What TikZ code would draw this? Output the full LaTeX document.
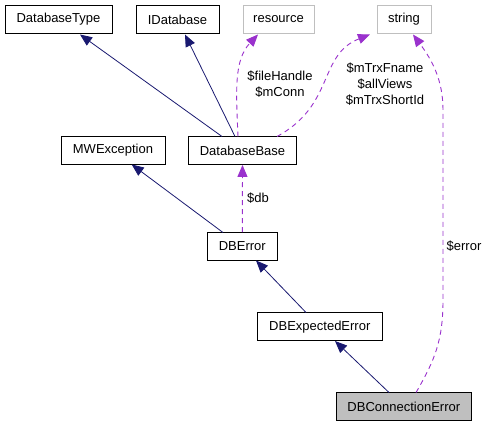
\documentclass[tikz,border=0pt]{standalone}
\usepackage{fontspec}
\setmainfont{Liberation Sans}
\usetikzlibrary{arrows.meta}
\definecolor{navy}{HTML}{191970}
\definecolor{orchid}{HTML}{9A32CD}
\definecolor{boxgray}{HTML}{BFBFBF}
\tikzset{
  cls/.style={draw=black, line width=0.9pt, inner sep=0pt, minimum height=28pt, font=\fontsize{13}{15}\selectfont},
  ext/.style={cls, draw=boxgray},
  inh/.style={draw=navy, line width=0.8pt, -{Triangle[length=12pt,width=10pt]}, shorten >=0pt},
  use/.style={draw=orchid, line width=0.9pt, dash pattern=on 5pt off 4pt, -{Triangle[length=12pt,width=10pt]}, color=orchid},
  lbl/.style={font=\fontsize{13}{16}\selectfont, align=center, inner sep=0pt}
}
\begin{document}
\begin{tikzpicture}[x=1pt,y=-1pt]
\useasboundingbox (0,0) rectangle (487,427);
\node[cls, minimum width=107pt] (dbt) at (58.5,19.5) {DatabaseType};
\node[cls, minimum width=83pt] (idb) at (177.5,19.5) {IDatabase};
\node[ext, minimum width=71pt] (res) at (278.5,19.5) {resource};
\node[ext, minimum width=54pt] (str) at (404,19.5) {string};
\node[cls, minimum width=104pt] (mwe) at (113,150.5) {MWException};
\node[cls, minimum width=108pt] (dbb) at (242.5,150.5) {DatabaseBase};
\node[cls, minimum width=70pt] (dbe) at (242.3,246.5) {DBError};
\node[cls, minimum width=125pt] (dbx) at (319.8,326.7) {DBExpectedError};
\node[cls, minimum width=135pt, fill=boxgray] (dbc) at (403.8,406.7) {DBConnectionError};

\coordinate (a1) at (222,136.5);
\coordinate (a2) at (235,136.5);
\coordinate (a3) at (238,136.5);
\coordinate (a4) at (277,136.5);
\draw[inh] (a1) -- (80,34.5);
\draw[inh] (a2) -- (185,34.5);
\draw[use] (a3) .. controls (236,90) and (234,60) .. (258,34.5);
\draw[use] (a4) .. controls (335,105) and (318,55) .. (370,34.5);
\coordinate (c1) at (416,392.5);
\draw[use] (c1) .. controls (435,360) and (443,340) .. (443,300) -- (443,110) .. controls (443,80) and (432,60) .. (413,34.5);
\coordinate (e1) at (223,232.5);
\draw[inh] (e1) -- (131.7,164.5);
\draw[use] (dbe.north) -- (dbb.south);
\coordinate (x1) at (306,312.5);
\draw[inh] (x1) -- (256,260.5);
\coordinate (y1) at (389,392.5);
\draw[inh] (y1) -- (335,341);

\node[lbl] (l1) at (280,84.5) {\$fileHandle\\\$mConn};
\node[lbl] (l2) at (385,84) {\$mTrxFname\\\$allViews\\\$mTrxShortId};
\node[lbl] (l3) at (464,246) {\$error};
\node[lbl] (l4) at (258,198) {\$db};
\end{tikzpicture}
\end{document}
